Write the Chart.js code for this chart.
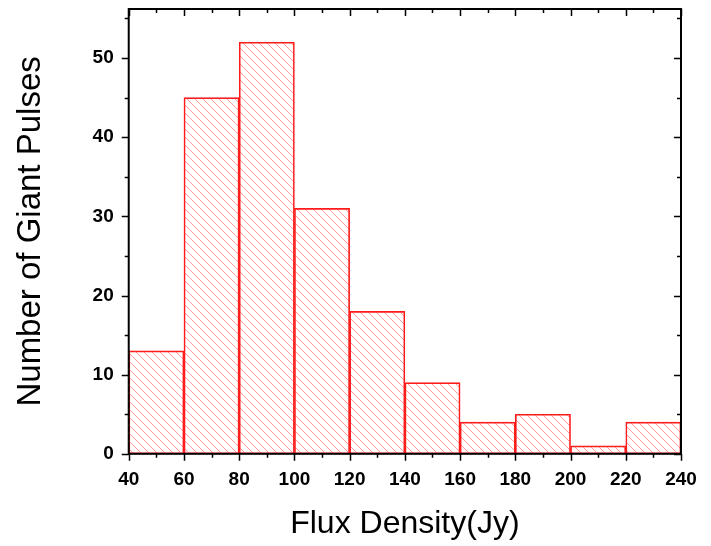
<!DOCTYPE html>
<html>
<head>
<meta charset="utf-8">
<script src="https://cdn.jsdelivr.net/npm/chart.js@4.4.0/dist/chart.umd.min.js"></script>
<style>
  html, body { margin: 0; padding: 0; background: #fff; }
  #wrap { width: 711px; height: 546px; }
</style>
</head>
<body>
<div id="wrap"><canvas id="histChart" width="711" height="546"></canvas></div>
<script>
// histogram bins (Jy) and counts
const binStarts = [40, 60, 80, 100, 120, 140, 160, 180, 200, 220];
const binWidth = 20;
const counts = [13, 45, 52, 31, 18, 9, 4, 5, 1, 4];
const xTicks = [40, 60, 80, 100, 120, 140, 160, 180, 200, 220, 240];
const yTicks = [0, 10, 20, 30, 40, 50];

function makeHatch() {
  const c = document.createElement('canvas');
  c.width = 8; c.height = 8;
  const g = c.getContext('2d');
  g.strokeStyle = 'rgba(255,70,70,0.55)';
  g.lineWidth = 1;
  g.beginPath();
  g.moveTo(-1, -1); g.lineTo(9, 9);
  g.moveTo(-9, -1); g.lineTo(1, 9);
  g.moveTo(7, -1); g.lineTo(17, 9);
  g.stroke();
  return g.createPattern(c, 'repeat');
}

// frame + tick marks: outward on bottom/left, inward on top/right
const framePlugin = {
  id: 'frame',
  afterDraw(chart) {
    const { ctx, chartArea: a, scales } = chart;
    const x = scales.x, y = scales.y;
    ctx.save();
    ctx.strokeStyle = '#000';
    ctx.lineWidth = 2;
    ctx.strokeRect(a.left, a.top, a.right - a.left, a.bottom - a.top);
    ctx.lineWidth = 1.5;
    ctx.beginPath();
    for (let v = 40; v <= 240; v += 10) {
      const px = Math.round(x.getPixelForValue(v)) + 0.5;
      const len = v % 20 === 0 ? 7 : 4;
      ctx.moveTo(px, a.bottom); ctx.lineTo(px, a.bottom + len);
      ctx.moveTo(px, a.top); ctx.lineTo(px, a.top + len);
    }
    for (let v = 0; v <= 55; v += 5) {
      const py = Math.round(y.getPixelForValue(v)) + 0.5;
      const len = v % 10 === 0 ? 7 : 4;
      ctx.moveTo(a.left, py); ctx.lineTo(a.left - len, py);
      ctx.moveTo(a.right, py); ctx.lineTo(a.right - len, py);
    }
    ctx.stroke();
    ctx.restore();
  }
};

const ctx = document.getElementById('histChart').getContext('2d');
new Chart(ctx, {
  type: 'bar',
  data: {
    datasets: [{
      label: 'Giant Pulses',
      data: binStarts.map((s, i) => ({ x: s + binWidth / 2, y: counts[i] })),
      backgroundColor: makeHatch(),
      borderColor: '#ff1a1a',
      borderWidth: 1,
      borderSkipped: false,
      barPercentage: 1,
      categoryPercentage: 1
    }]
  },
  options: {
    responsive: false,
    animation: false,
    layout: { padding: { top: 9, right: 30, left: 11, bottom: 3 } },
    plugins: { legend: { display: false }, tooltip: { enabled: false } },
    scales: {
      x: {
        type: 'linear',
        min: 40,
        max: 240,
        offset: false,
        grid: { display: false },
        border: { display: false },
        afterBuildTicks(s) { s.ticks = xTicks.map(v => ({ value: v })); },
        ticks: {
          color: '#000',
          padding: 7,
          maxRotation: 0,
          font: { family: 'Liberation Sans', size: 19, weight: 'bold' }
        },
        title: {
          display: true,
          text: 'Flux Density(Jy)',
          color: '#000',
          padding: { top: 6, bottom: 0 },
          font: { family: 'Liberation Sans', size: 32 }
        }
      },
      y: {
        min: 0,
        max: 56.2,
        grid: { display: false },
        border: { display: false },
        afterBuildTicks(s) { s.ticks = yTicks.map(v => ({ value: v })); },
        afterFit(s) { s.paddingTop = 0; s.paddingBottom = 0; },
        ticks: {
          color: '#000',
          padding: 7,
          font: { family: 'Liberation Sans', size: 19, weight: 'bold' }
        },
        title: {
          display: true,
          text: 'Number of Giant Pulses',
          color: '#000',
          padding: { top: 0, bottom: 35 },
          font: { family: 'Liberation Sans', size: 33 }
        }
      }
    }
  },
  plugins: [framePlugin]
});
</script>
</body>
</html>
